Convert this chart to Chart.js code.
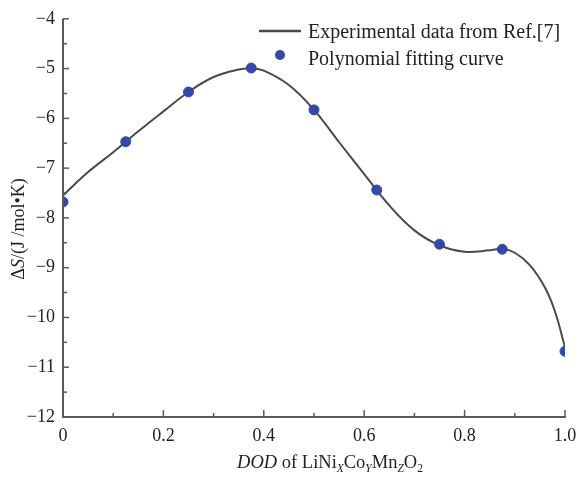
<!DOCTYPE html>
<html>
<head>
<meta charset="utf-8">
<script src="https://cdn.jsdelivr.net/npm/chart.js@4.4.0/dist/chart.umd.min.js"></script>
<style>
  html, body { margin: 0; padding: 0; background: #fff; }
  #wrap { width: 579px; height: 481px; }
</style>
</head>
<body>
<div id="wrap"><canvas id="chart" width="579" height="481"></canvas></div>
<script>
// fitted curve
const curveX = [0, 0.05, 0.1, 0.15, 0.2, 0.25, 0.3, 0.35, 0.375, 0.4, 0.45, 0.5, 0.55, 0.6, 0.65, 0.7, 0.75, 0.8, 0.85, 0.875, 0.9, 0.93, 0.96, 0.98, 1.0];
const curveY = [-7.55, -7.08, -6.68, -6.26, -5.86, -5.47, -5.17, -5.02, -5.0, -5.04, -5.33, -5.83, -6.48, -7.12, -7.75, -8.25, -8.55, -8.68, -8.65, -8.62, -8.7, -8.95, -9.4, -9.88, -10.6];

// marker points
const pointX = [0, 0.125, 0.25, 0.375, 0.5, 0.625, 0.75, 0.875, 1.0];
const pointY = [-7.68, -6.47, -5.47, -4.99, -5.83, -7.44, -8.53, -8.63, -10.68];

const xTicks = [0, 0.2, 0.4, 0.6, 0.8, 1.0];
const xTickLabels = ['0', '0.2', '0.4', '0.6', '0.8', '1.0'];
const yTicks = [-12, -11, -10, -9, -8, -7, -6, -5, -4];

const seriesNames = ['Experimental data from Ref.[7]', 'Polynomial fitting curve'];

const SERIF = '"Liberation Serif", "DejaVu Serif", serif';
const axisColor = '#5a5a5a';
const lineColor = '#4a4a4a';
const dotColor = '#3548a6';

function drawRuns(ctx, runs, x, y, size, align) {
  // runs: [{t, italic, sub}]
  const font = r => (r.italic ? 'italic ' : '') + (r.sub ? size * 0.62 : size) + 'px ' + SERIF;
  let total = 0;
  runs.forEach(r => { ctx.font = font(r); total += ctx.measureText(r.t).width; });
  let cx = align === 'center' ? x - total / 2 : x;
  ctx.textAlign = 'left';
  ctx.textBaseline = 'alphabetic';
  runs.forEach(r => {
    ctx.font = font(r);
    ctx.fillText(r.t, cx, r.sub ? y + size * 0.22 : y);
    cx += ctx.measureText(r.t).width;
  });
}

const axesPlugin = {
  id: 'axesPlugin',
  afterDatasetsDraw(chart) {
    const ctx = chart.ctx;
    const xs = chart.scales.x, ys = chart.scales.y;
    const { left, bottom, top, right } = chart.chartArea;
    ctx.save();
    ctx.strokeStyle = axisColor;
    ctx.lineWidth = 2;
    ctx.beginPath();
    ctx.moveTo(left, top);
    ctx.lineTo(left, bottom);
    ctx.lineTo(right + 1, bottom);
    ctx.stroke();
    ctx.lineWidth = 1.5;
    // y ticks, major + minor, pointing inward
    for (let v = -12; v <= -4; v += 0.5) {
      const p = ys.getPixelForValue(v);
      const len = Number.isInteger(v) ? 6 : 4;
      ctx.beginPath();
      ctx.moveTo(left, p);
      ctx.lineTo(left + len, p);
      ctx.stroke();
    }
    for (let i = 0; i <= 10; i++) {
      const p = xs.getPixelForValue(i / 10);
      const len = i % 2 === 0 ? 7 : 4;
      ctx.beginPath();
      ctx.moveTo(p, bottom);
      ctx.lineTo(p, bottom - len);
      ctx.stroke();
    }
    ctx.restore();
  },
  afterDraw(chart) {
    const ctx = chart.ctx;
    ctx.save();
    // legend
    ctx.strokeStyle = lineColor;
    ctx.lineWidth = 2.5;
    ctx.beginPath();
    ctx.moveTo(259, 31);
    ctx.lineTo(301, 31);
    ctx.stroke();
    ctx.fillStyle = dotColor;
    ctx.beginPath();
    ctx.arc(280, 55, 5, 0, Math.PI * 2);
    ctx.fill();
    ctx.fillStyle = '#222';
    drawRuns(ctx, [{ t: chart.data.datasets[0].label }], 308, 38, 20, 'left');
    drawRuns(ctx, [{ t: chart.data.datasets[1].label }], 308, 65, 20, 'left');
    // x title
    drawRuns(ctx, [
      { t: 'DOD', italic: true }, { t: ' of LiNi' }, { t: 'X', italic: true, sub: true },
      { t: 'Co' }, { t: 'Y', italic: true, sub: true }, { t: 'Mn' },
      { t: 'Z', italic: true, sub: true }, { t: 'O' }, { t: '2', sub: true }
    ], 330, 468, 18.5, 'center');
    // y title, rotated
    ctx.translate(24, 229);
    ctx.rotate(-Math.PI / 2);
    drawRuns(ctx, [{ t: 'Δ' }, { t: 'S', italic: true }, { t: '/(J /mol•K)' }], 0, 0, 18, 'center');
    ctx.restore();
  }
};

new Chart(document.getElementById('chart'), {
  type: 'scatter',
  data: {
    datasets: [
      {
        label: seriesNames[0],
        data: curveX.map((x, i) => ({ x: x, y: curveY[i] })),
        showLine: true,
        borderColor: lineColor,
        borderWidth: 2,
        pointRadius: 0,
        tension: 0.4,
        order: 2
      },
      {
        label: seriesNames[1],
        data: pointX.map((x, i) => ({ x: x, y: pointY[i] })),
        showLine: false,
        backgroundColor: dotColor,
        borderColor: dotColor,
        pointRadius: 5,
        order: 1
      }
    ]
  },
  options: {
    responsive: false,
    animation: false,
    layout: { padding: { top: 14, right: 14, left: 0, bottom: 0 } },
    plugins: { legend: { display: false }, tooltip: { enabled: false } },
    scales: {
      x: {
        type: 'linear',
        min: 0,
        max: 1,
        afterBuildTicks: s => { s.ticks = xTicks.map(v => ({ value: v })); },
        afterFit: s => { s.height = 64; s.paddingLeft = 0; s.paddingRight = 0; },
        grid: { display: false, drawTicks: false },
        border: { display: false },
        ticks: {
          padding: 8,
          color: '#222',
          font: { family: SERIF, size: 18 },
          callback: v => xTickLabels[xTicks.indexOf(v)] ?? ''
        }
      },
      y: {
        min: -12,
        max: -4,
        afterBuildTicks: s => { s.ticks = yTicks.map(v => ({ value: v })); },
        afterFit: s => { s.width = 63; },
        grid: { display: false, drawTicks: false },
        border: { display: false },
        ticks: {
          padding: 8,
          color: '#222',
          font: { family: SERIF, size: 18 },
          callback: v => String(v).replace('-', '\u2212')
        }
      }
    }
  },
  plugins: [axesPlugin]
});
</script>
</body>
</html>
